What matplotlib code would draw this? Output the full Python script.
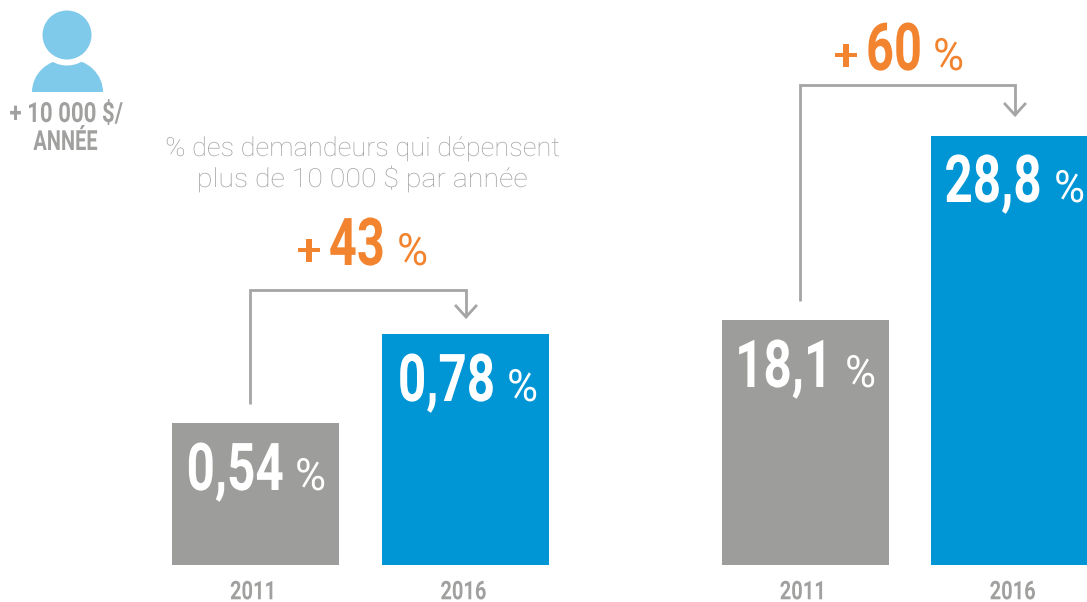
# -*- coding: utf-8 -*-
import numpy as np
import matplotlib
matplotlib.use('Agg')
import matplotlib.pyplot as plt
from matplotlib.patches import Circle, Ellipse, Rectangle
from matplotlib.patheffects import AbstractPathEffect
from matplotlib.transforms import Affine2D

W, H = 1087, 602
BASE_Y = 565

years = ['2011', '2016']
values_left = [0.54, 0.78]
values_right = [18.1, 28.8]
labels_left = ['0,54', '0,78']
labels_right = ['18,1', '28,8']
change_left = '43'
change_right = '60'
caption = ['% des demandeurs qui dépensent', 'plus de 10 000 $ par année']
icon_text = ['+ 10 000 $/', 'ANNÉE']

GREY = '#9D9D9C'
BLUE = '#0096D6'
ORANGE = '#F28430'
LINE = '#A5A5A5'
TEXT = '#A0A09F'
ICON = '#7FC9EA'
FONT = 'Roboto'


class Squeeze(AbstractPathEffect):
    # no condensed face installed, so narrow the glyphs around the middle of the text
    def __init__(self, sx, dx=0):
        super().__init__()
        self.sx = sx
        self.dx = dx

    def draw_path(self, renderer, gc, tpath, affine, rgbFace=None):
        box = tpath.get_extents()
        cx = (box.x0 + box.x1) / 2
        squeeze = Affine2D().translate(-cx, 0).scale(self.sx, 1).translate(cx, 0)
        renderer.draw_path(gc, tpath, squeeze + affine + Affine2D().translate(self.dx, 0), rgbFace)


fig = plt.figure(figsize=(W / 100, H / 100), dpi=100, facecolor='white')


def panel(x0, x1, values, stops, top):
    # bars in the source are not to scale, so the y scale goes through the drawn tops
    ax = fig.add_axes([x0 / W, (H - BASE_Y) / H, (x1 - x0) / W, BASE_Y / H])
    xs = [0, 1]
    vals = [0] + values + [top]
    fwd = lambda v: np.interp(v, vals, stops)
    inv = lambda p: np.interp(p, stops, vals)
    ax.set_yscale('function', functions=(fwd, inv))
    ax.bar(xs, values, width=0.795, color=[GREY, BLUE])
    ax.set_xlim(-0.5, 1.5)
    ax.set_ylim(0, top)
    ax.set_xticks(xs, years, fontfamily=FONT, fontweight='bold', fontsize=18.5, color=TEXT)
    ax.set_yticks([], [])
    ax.minorticks_off()
    ax.tick_params(axis='x', length=0, pad=11)
    for lab in ax.get_xticklabels():
        lab.set_path_effects([Squeeze(0.78, -2)])
    for s in ax.spines.values():
        s.set_visible(False)
    ax.patch.set_alpha(0)
    return ax


panel(150.5, 570.5, values_left, [0, 142, 231, 565], 2)
panel(700.5, 1119.5, values_right, [0, 245, 429, 565], 60)

# overlay in pixel coordinates for the connectors, icon and texts
ov = fig.add_axes([0, 0, 1, 1])
ov.set_xlim(0, W)
ov.set_ylim(H, 0)
ov.axis('off')
ov.patch.set_alpha(0)


def connector(x0, y0, ytop, x1, ytip):
    ov.plot([x0, x0, x1, x1], [y0, ytop, ytop, ytip], color=LINE, lw=2,
            solid_joinstyle='miter', solid_capstyle='butt')
    ov.plot([x1 - 10, x1, x1 + 10], [ytip - 11, ytip, ytip - 11], color=LINE, lw=2,
            solid_joinstyle='miter')


connector(250, 404, 289.5, 466, 317)
connector(800, 301, 85, 1015, 115)


def put(x, y, s, color, size, sx=1.0, weight='normal'):
    t = ov.text(x, y, s, color=color, fontfamily=FONT, fontweight=weight, fontsize=size,
                ha='center', va='baseline')
    t.set_path_effects([Squeeze(sx)])
    return t


def big_label(s, x, pct_x, y):
    put(x, y, s, 'white', 47.5, 0.75, 'bold')
    put(pct_x, y, '%', 'white', 32, 0.95)


big_label(labels_left[0], 235, 310.5, 490)
big_label(labels_left[1], 446.5, 522.5, 401)
big_label(labels_right[0], 784.5, 860.5, 387)
big_label(labels_right[1], 993, 1069.5, 202)


def change(s, plus_x, num_x, pct_x, y):
    put(plus_x, y, '+', ORANGE, 32, 1.0, 'medium')
    put(num_x, y, s, ORANGE, 47.5, 0.74, 'bold')
    put(pct_x, y, '%', ORANGE, 32, 0.95)


change(change_left, 309, 357, 412.5, 265)
change(change_right, 846, 894, 948.5, 70)

put(362.5, 156, caption[0], TEXT, 19, 1.03, 'light')
put(362, 187, caption[1], TEXT, 19, 1.08, 'light')

# person icon
shoulders = Ellipse((67.5, 92), 71, 66, color=ICON, lw=0)
ov.add_patch(shoulders)
shoulders.set_clip_path(Rectangle((0, 0), W, 92, transform=ov.transData))
ov.add_patch(Circle((67, 35), 30.5, color='white', lw=0))
ov.add_patch(Circle((67, 35), 24.5, color=ICON, lw=0))

put(66, 122, icon_text[0], TEXT, 20, 0.8, 'bold')
put(65.5, 150, icon_text[1], TEXT, 20, 0.72, 'bold')

plt.savefig('out.png', dpi=100)
plt.close()
